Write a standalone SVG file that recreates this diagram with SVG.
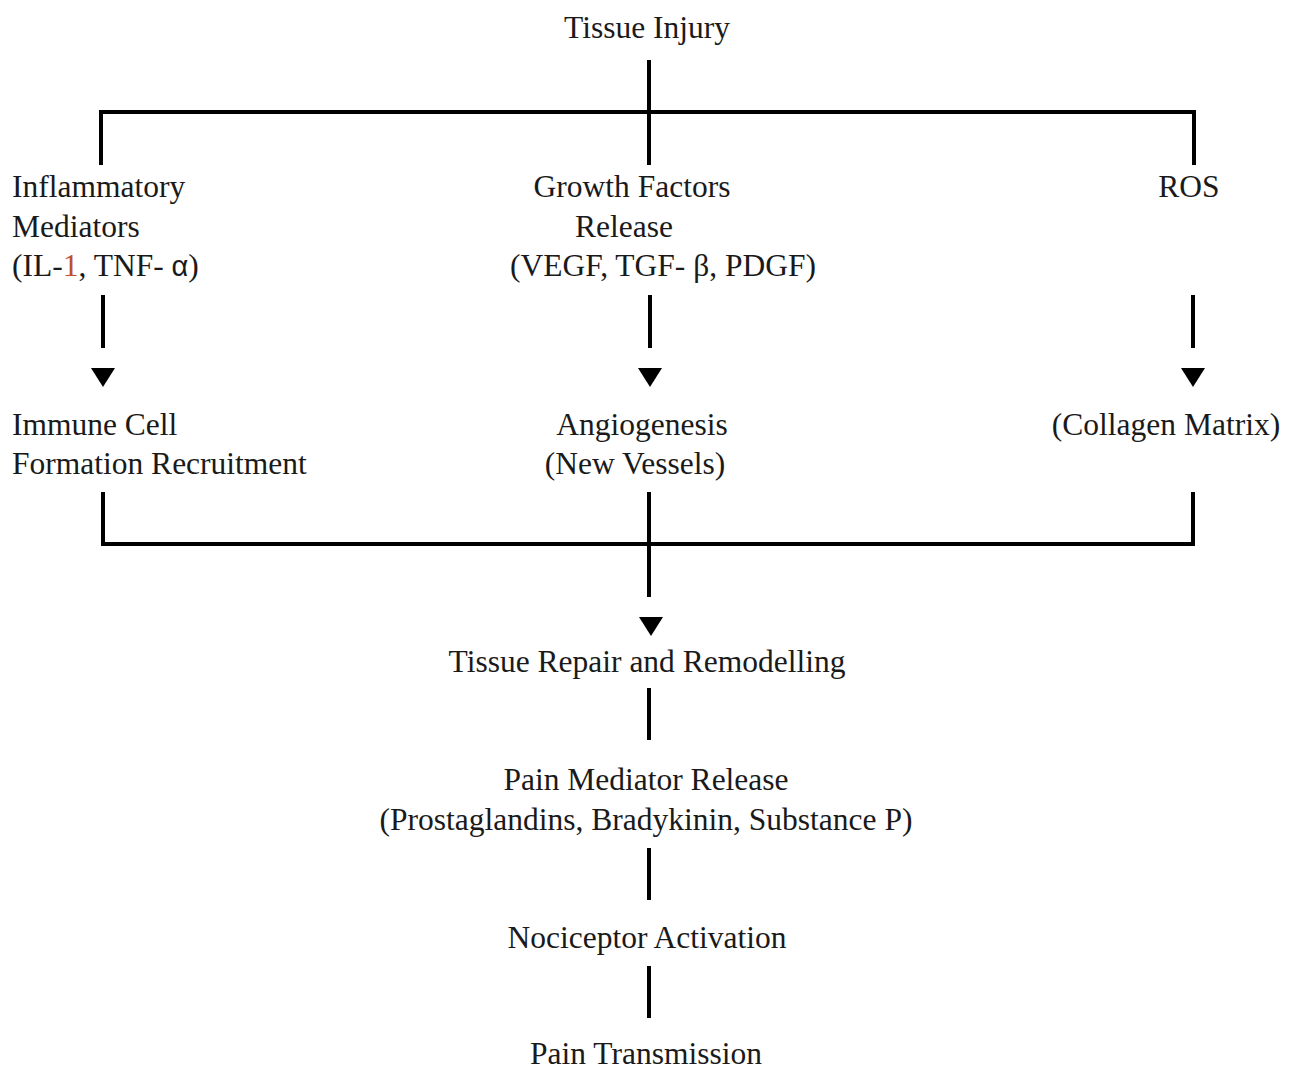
<svg xmlns="http://www.w3.org/2000/svg" width="1292" height="1072" viewBox="0 0 1292 1072">
<defs>
<style>
text{font-family:"Liberation Serif","Times New Roman",serif;font-size:31.5px;fill:#1a1a1a}
.c{text-anchor:middle}
.ln{stroke:#000;stroke-width:4;fill:none}
.tri{fill:#000}
.sans{font-family:"Liberation Sans",Arial,sans-serif;font-size:29px}
</style>
</defs>
<rect width="1292" height="1072" fill="#fff"/>
<g id="connectors">
<line class="ln" x1="649" y1="60" x2="649" y2="114"/>
<polyline class="ln" points="101,165 101,112 1194,112 1194,165"/>
<line class="ln" x1="649" y1="112" x2="649" y2="165"/>
<line class="ln" x1="103" y1="295" x2="103" y2="348"/>
<polygon class="tri" points="91,368 115,368 103,387"/>
<line class="ln" x1="650" y1="295" x2="650" y2="348"/>
<polygon class="tri" points="638,368 662,368 650,387"/>
<line class="ln" x1="1193" y1="295" x2="1193" y2="348"/>
<polygon class="tri" points="1181,368 1205,368 1193,387"/>
<polyline class="ln" points="103,492 103,544 1193,544 1193,492"/>
<line class="ln" x1="649" y1="492" x2="649" y2="597"/>
<polygon class="tri" points="639,617 663,617 651,636"/>
<line class="ln" x1="649" y1="688" x2="649" y2="740"/>
<line class="ln" x1="649" y1="848" x2="649" y2="900"/>
<line class="ln" x1="649" y1="966" x2="649" y2="1018"/>
</g>
<g id="n-tissue-injury"><text class="c" x="647" y="38">Tissue Injury</text></g>
<g id="n-inflammatory">
<text x="12" y="197">Inflammatory</text>
<text x="12" y="237">Mediators</text>
<text x="12" y="276">(IL-<tspan fill="#c0502a">1</tspan>, TNF- <tspan class="sans">α</tspan>)</text>
</g>
<g id="n-growth">
<text class="c" x="632" y="197">Growth Factors</text>
<text class="c" x="624" y="237">Release</text>
<text class="c" x="663" y="276">(VEGF, TGF- β, PDGF)</text>
</g>
<g id="n-ros"><text class="c" x="1189" y="197">ROS</text></g>
<g id="n-immune">
<text x="12" y="435">Immune Cell</text>
<text x="12" y="474">Formation Recruitment</text>
</g>
<g id="n-angio">
<text class="c" x="642" y="435">Angiogenesis</text>
<text class="c" x="635" y="474">(New Vessels)</text>
</g>
<g id="n-collagen"><text class="c" x="1166" y="435">(Collagen Matrix)</text></g>
<g id="n-repair"><text class="c" x="647" y="672">Tissue Repair and Remodelling</text></g>
<g id="n-pain-mediator">
<text class="c" x="646" y="790">Pain Mediator Release</text>
<text class="c" x="646" y="830">(Prostaglandins, Bradykinin, Substance P)</text>
</g>
<g id="n-nociceptor"><text class="c" x="647" y="948">Nociceptor Activation</text></g>
<g id="n-pain-transmission"><text class="c" x="646" y="1064">Pain Transmission</text></g>
</svg>
